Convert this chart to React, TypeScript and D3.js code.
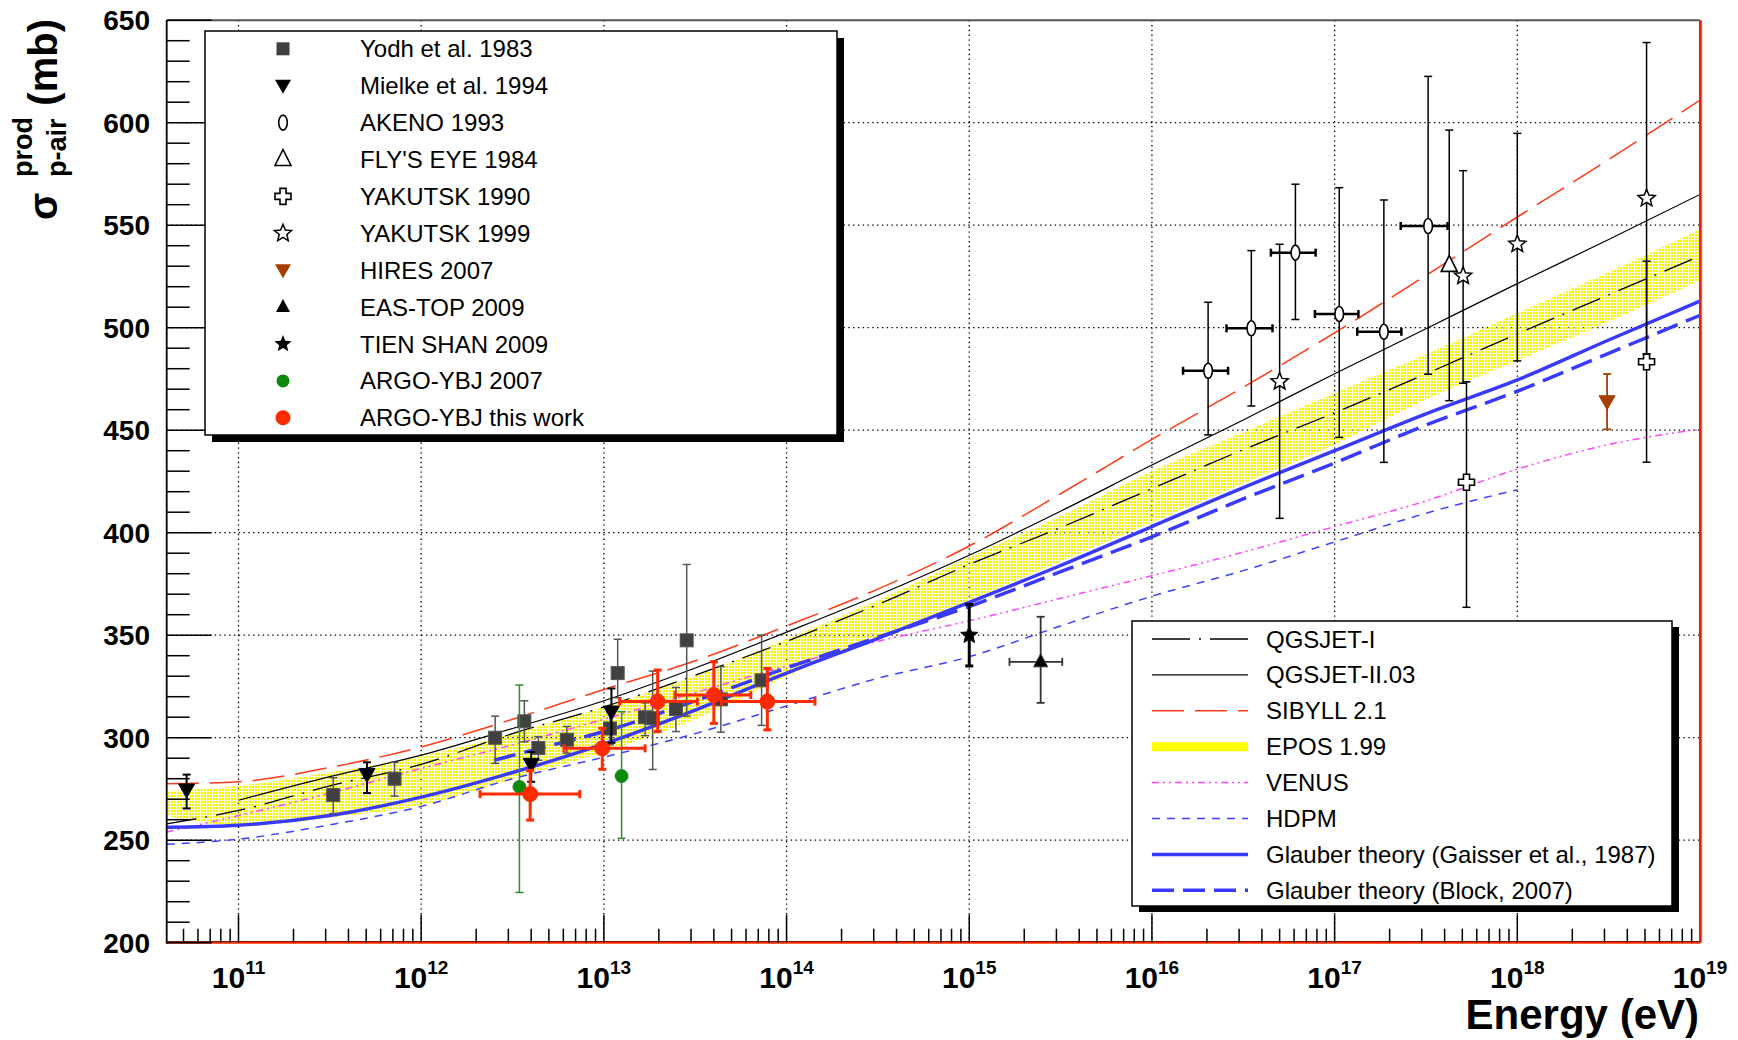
import React from "react";
import { scaleLog, scaleLinear, line, area, curveMonotoneX, range } from "d3";

// model curves: [log10(E / eV), sigma (mb)]
const qgsjetI = [
  [10.607, 258], [11, 264.5], [11.5, 276.5], [12, 287], [12.5, 302], [13, 315],
  [13.5, 330.5], [14, 347], [14.5, 365], [15, 384.5], [15.5, 402.5], [16, 421.5],
  [16.5, 440.5], [17, 458.5], [17.5, 477.5], [18, 497], [18.5, 516], [19, 535],
];
const qgsjetII = [
  [11, 269.5], [11.5, 281], [12, 291.5], [12.5, 304.5], [13, 318], [13.5, 334],
  [14, 351.5], [14.5, 369.5], [15, 389], [15.5, 410.5], [16, 433], [16.5, 455],
  [17, 477.5], [17.5, 499.5], [18, 521.5], [18.5, 543], [19, 565],
];
const sibyll = [
  [10.607, 277.5], [11, 278.5], [11.5, 285.5], [12, 295.5], [12.5, 309], [13, 323.5],
  [13.5, 337.5], [14, 354.5], [14.5, 372.5], [15, 393.5], [15.5, 419], [16, 445.5],
  [16.5, 471], [17, 497.5], [17.5, 525.5], [18, 554], [18.5, 582], [19, 611],
];
const venus = [
  [10.607, 254], [11, 262], [11.5, 273], [12, 285], [12.5, 296.5], [13, 309],
  [13.5, 322], [14, 335], [14.5, 347], [15, 357], [15.5, 368], [16, 379],
  [16.5, 390.5], [17, 403], [17.5, 415.5], [18, 431], [18.5, 443], [19, 450.5],
];
const hdpm = [
  [10.607, 248], [11, 250.5], [11.5, 257.5], [12, 266.5], [12.5, 280], [13, 290.5],
  [13.5, 302], [14, 315.5], [14.5, 329], [15, 339.5], [15.5, 354.5], [16, 369],
  [16.5, 381.5], [17, 395.5], [17.5, 409.5], [18, 421],
];
const gaisser = [
  [10.607, 256.3], [11, 257.3], [11.5, 262], [12, 271], [12.5, 283], [13, 297],
  [13.5, 313.5], [14, 331.5], [14.5, 348.5], [15, 366], [15.5, 384], [16, 403],
  [16.5, 422], [17, 440], [17.5, 458], [18, 474.5], [18.5, 494], [19, 513],
];
const block = [
  [12.4, 289], [12.7, 296], [13, 303], [13.5, 318], [14, 334], [14.5, 349], [15, 364],
  [15.5, 381], [16, 398], [16.5, 416.5], [17, 434], [17.5, 452.5], [18, 469],
  [18.5, 487.5], [19, 506],
];
// EPOS 1.99 band
const eposE = [10.607, 11, 11.5, 12, 12.5, 13, 13.5, 14, 14.5, 15, 15.5, 16, 16.5, 17, 17.5, 18, 18.5, 19];
const eposHigh = [274, 276.5, 283, 291, 302, 315, 330, 348, 367, 388, 408, 430, 449, 468, 487, 507, 527, 548];
const eposLow = [262, 257, 261, 267, 280, 293, 309, 330, 349, 367, 386, 405, 424, 443, 465, 484, 503, 523];

type Pt = { e: number; s: number; up: number; dn: number; elo?: number; ehi?: number };

const yodh: Pt[] = [
  { e: 3.3e11, s: 272, up: 8.5, dn: 9 },
  { e: 7.15e11, s: 280, up: 8, dn: 8.5 },
  { e: 2.54e12, s: 300, up: 10.5, dn: 12.5 },
  { e: 3.67e12, s: 308, up: 10, dn: 10 },
  { e: 4.38e12, s: 295, up: 5.5, dn: 6 },
  { e: 6.27e12, s: 299, up: 6.5, dn: 6.5 },
  { e: 1.08e13, s: 304.5, up: 8, dn: 8 },
  { e: 1.19e13, s: 331.5, up: 16.5, dn: 12 },
  { e: 1.68e13, s: 310, up: 7, dn: 9 },
  { e: 1.85e13, s: 309.5, up: 23, dn: 25 },
  { e: 2.48e13, s: 314, up: 10.5, dn: 11 },
  { e: 2.84e13, s: 347.5, up: 37, dn: 37 },
  { e: 4.37e13, s: 318.7, up: 16, dn: 16 },
  { e: 7.3e13, s: 328, up: 22, dn: 22 },
];
const mielke: Pt[] = [
  { e: 5.2e10, s: 274.5, up: 7.5, dn: 9 },
  { e: 5.05e11, s: 282, up: 6, dn: 9 },
  { e: 4.0e12, s: 287, up: 6, dn: 8.5 },
  { e: 1.1e13, s: 312.5, up: 11.5, dn: 15 },
];
const akeno: Pt[] = [
  { e: 2.03e16, s: 479, up: 33.4, dn: 31.3, elo: 1.48e16, ehi: 2.61e16 },
  { e: 3.5e16, s: 499.7, up: 37.9, dn: 37.9, elo: 2.56e16, ehi: 4.57e16 },
  { e: 6.1e16, s: 536.6, up: 33.4, dn: 32.6, elo: 4.48e16, ehi: 7.87e16 },
  { e: 1.06e17, s: 506.7, up: 61.6, dn: 60.2, elo: 7.8e16, ehi: 1.35e17 },
  { e: 1.86e17, s: 498, up: 64.3, dn: 63.7, elo: 1.33e17, ehi: 2.32e17 },
  { e: 3.25e17, s: 549.6, up: 73, dn: 72.3, elo: 2.3e17, ehi: 4.15e17 },
];
const flysEye: Pt[] = [{ e: 4.24e17, s: 530.4, up: 66, dn: 66 }];
const yakutsk90: Pt[] = [
  { e: 5.27e17, s: 424.6, up: 49, dn: 61 },
  { e: 5.1e18, s: 483.4, up: 49, dn: 49 },
];
const yakutsk99: Pt[] = [
  { e: 5e16, s: 473.7, up: 67, dn: 66.7 },
  { e: 5.05e17, s: 525.2, up: 51.4, dn: 52.3 },
  { e: 1e18, s: 540.8, up: 54, dn: 57 },
  { e: 5.1e18, s: 563.1, up: 76, dn: 76 },
];
const hires: Pt[] = [{ e: 3.1e18, s: 463.9, up: 13.5, dn: 13.5 }];
const easTop: Pt[] = [{ e: 2.46e15, s: 337, up: 22, dn: 20, elo: 1.66e15, ehi: 3.23e15 }];
const tienShan: Pt[] = [{ e: 1e15, s: 350, up: 15, dn: 15 }];
const argo2007: Pt[] = [
  { e: 3.45e12, s: 276, up: 49.7, dn: 51.5 },
  { e: 1.25e13, s: 281.3, up: 31.4, dn: 30.4 },
];
const argoThis: Pt[] = [
  { e: 3.95e12, s: 272.5, up: 11.5, dn: 12.7, elo: 2.1e12, ehi: 7.38e12 },
  { e: 9.8e12, s: 294.8, up: 9.8, dn: 10.2, elo: 6.05e12, ehi: 1.68e13 },
  { e: 1.97e13, s: 317.6, up: 15.4, dn: 14.6, elo: 1.22e13, ehi: 3.25e13 },
  { e: 4.0e13, s: 320.8, up: 16.2, dn: 13.8, elo: 2.45e13, ehi: 6.37e13 },
  { e: 7.85e13, s: 317.6, up: 16.2, dn: 13.8, elo: 4.4e13, ehi: 1.43e14 },
];

const xDecades = [11, 12, 13, 14, 15, 16, 17, 18, 19];
const yMajor = [200, 250, 300, 350, 400, 450, 500, 550, 600, 650];

const FONT = "'Liberation Sans', Arial, Helvetica, sans-serif";
const X0 = 166.7, X1 = 1700, Y0 = 942.7, Y1 = 20.2;
const x = scaleLog().domain([Math.pow(10, 10.607), 1e19]).range([X0, X1]);
const y = scaleLinear().domain([200, 650]).range([Y0, Y1]);

const curve = (pts: number[][]) =>
  line<number[]>()
    .x((d) => x(Math.pow(10, d[0])))
    .y((d) => y(d[1]))
    .curve(curveMonotoneX)(pts) as string;

const eposBand = area<number>()
  .x((d, i) => x(Math.pow(10, eposE[i])))
  .y0((d, i) => y(eposLow[i]))
  .y1((d, i) => y(eposHigh[i]))
  .curve(curveMonotoneX)(eposE) as string;

const starPts = (cx: number, cy: number, R: number, r: number) =>
  range(10)
    .map((i) => {
      const a = -Math.PI / 2 + (i * Math.PI) / 5;
      const rr = i % 2 ? r : R;
      return `${cx + rr * Math.cos(a)},${cy + rr * Math.sin(a)}`;
    })
    .join(" ");

function Marker({ kind, cx, cy }: { kind: string; cx: number; cy: number }) {
  switch (kind) {
    case "square":
      return <rect x={cx - 6.5} y={cy - 6.5} width={13} height={13} fill="#404040" />;
    case "tridown":
      return <polygon points={`${cx - 8},${cy - 6} ${cx + 8},${cy - 6} ${cx},${cy + 8}`} fill="#000" />;
    case "hires":
      return <polygon points={`${cx - 8},${cy - 6} ${cx + 8},${cy - 6} ${cx},${cy + 8}`} fill="#a63f00" />;
    case "diamond":
      return <ellipse cx={cx} cy={cy} rx={4.3} ry={7.5} fill="#fff" stroke="#000" strokeWidth={1.6} />;
    case "opentri":
      return <polygon points={`${cx},${cy - 10} ${cx - 8},${cy + 6} ${cx + 8},${cy + 6}`} fill="#fff" stroke="#000" strokeWidth={1.6} />;
    case "opencross": {
      const a = 3, b = 8;
      const p = [[-a, -b], [a, -b], [a, -a], [b, -a], [b, a], [a, a], [a, b], [-a, b], [-a, a], [-b, a], [-b, -a], [-a, -a]];
      return <polygon points={p.map((q) => `${cx + q[0]},${cy + q[1]}`).join(" ")} fill="#fff" stroke="#000" strokeWidth={1.6} />;
    }
    case "openstar":
      return <polygon points={starPts(cx, cy, 9, 4)} fill="#fff" stroke="#000" strokeWidth={1.5} />;
    case "tri":
      return <polygon points={`${cx},${cy - 8} ${cx - 7},${cy + 5} ${cx + 7},${cy + 5}`} fill="#000" />;
    case "star":
      return <polygon points={starPts(cx, cy, 9, 4)} fill="#000" />;
    case "green":
      return <circle cx={cx} cy={cy} r={6.5} fill="#0b8a0b" />;
    default:
      return <circle cx={cx} cy={cy} r={7.5} fill="#ff2a00" />;
  }
}

const series = [
  { name: "Yodh et al. 1983", kind: "square", pts: yodh, color: "#555", w: 1.5, hw: 1.5 },
  { name: "Mielke et al. 1994", kind: "tridown", pts: mielke, color: "#000", w: 2, hw: 2 },
  { name: "AKENO 1993", kind: "diamond", pts: akeno, color: "#000", w: 1.5, hw: 2.5 },
  { name: "FLY'S EYE 1984", kind: "opentri", pts: flysEye, color: "#000", w: 1.5, hw: 1.5 },
  { name: "YAKUTSK 1990", kind: "opencross", pts: yakutsk90, color: "#000", w: 1.5, hw: 1.5 },
  { name: "YAKUTSK 1999", kind: "openstar", pts: yakutsk99, color: "#000", w: 1.5, hw: 1.5 },
  { name: "HIRES 2007", kind: "hires", pts: hires, color: "#a63f00", w: 1.8, hw: 1.8 },
  { name: "EAS-TOP 2009", kind: "tri", pts: easTop, color: "#333", w: 1.8, hw: 1.8 },
  { name: "TIEN SHAN 2009", kind: "star", pts: tienShan, color: "#000", w: 3, hw: 3 },
  { name: "ARGO-YBJ 2007", kind: "green", pts: argo2007, color: "#2e8b2e", w: 1.5, hw: 1.5 },
  { name: "ARGO-YBJ this work", kind: "red", pts: argoThis, color: "#ff2a00", w: 3, hw: 3 },
];

const models = [
  { name: "QGSJET-I", d: curve(qgsjetI), color: "#000", w: 1.3, dash: "30 9 2 9" },
  { name: "QGSJET-II.03", d: curve(qgsjetII), color: "#000", w: 1.2, dash: "" },
  { name: "SIBYLL 2.1", d: curve(sibyll), color: "#ff3a1a", w: 1.5, dash: "32 11" },
  { name: "EPOS 1.99", d: "", color: "#ffff00", w: 9, dash: "" },
  { name: "VENUS", d: curve(venus), color: "#ff44ff", w: 1.5, dash: "7 4 2 4 2 4" },
  { name: "HDPM", d: curve(hdpm), color: "#4040ff", w: 1.5, dash: "8 7" },
  { name: "Glauber theory (Gaisser et al., 1987)", d: curve(gaisser), color: "#3a3aff", w: 3.5, dash: "" },
  { name: "Glauber theory (Block, 2007)", d: curve(block), color: "#3a3aff", w: 3.5, dash: "22 9" },
];

function Points({ s }: { s: (typeof series)[number] }) {
  const cap = 4;
  return (
    <g>
      {s.pts.map((p, i) => {
        const cx = x(p.e), cy = y(p.s), t = y(p.s + p.up), b = y(p.s - p.dn);
        return (
          <g key={i} stroke={s.color}>
            <line x1={cx} x2={cx} y1={t} y2={b} strokeWidth={s.w} />
            <line x1={cx - cap} x2={cx + cap} y1={t} y2={t} strokeWidth={s.w} />
            <line x1={cx - cap} x2={cx + cap} y1={b} y2={b} strokeWidth={s.w} />
            {p.elo && p.ehi && (
              <g strokeWidth={s.hw}>
                <line x1={x(p.elo)} x2={x(p.ehi)} y1={cy} y2={cy} />
                <line x1={x(p.elo)} x2={x(p.elo)} y1={cy - cap} y2={cy + cap} />
                <line x1={x(p.ehi)} x2={x(p.ehi)} y1={cy - cap} y2={cy + cap} />
              </g>
            )}
            <Marker kind={s.kind} cx={cx} cy={cy} />
          </g>
        );
      })}
    </g>
  );
}

export default function App() {
  const minorX: number[] = [];
  for (let d = 10; d < 19; d++)
    for (let k = 2; k <= 9; k++) {
      const e = k * Math.pow(10, d);
      if (e > x.domain()[0] && e < 1e19) minorX.push(e);
    }
  const minorY = range(200, 651, 10).filter((v) => v % 50 !== 0);

  return (
    <svg
      width={1738}
      height={1040}
      style={{ position: "absolute", left: 0, top: 0, background: "#fff" }}
      fontFamily={FONT}
    >
      <defs>
        <pattern id="epos" width={3} height={3} patternUnits="userSpaceOnUse">
          <rect width={2.1} height={2.1} fill="#f4f400" />
        </pattern>
        <clipPath id="plot">
          <rect x={X0} y={Y1} width={X1 - X0} height={Y0 - Y1} />
        </clipPath>
      </defs>

      {/* grid */}
      <g stroke="#000" strokeWidth={1.3} strokeDasharray="1.4 3.4">
        {xDecades.slice(0, -1).map((d) => (
          <line key={d} x1={x(Math.pow(10, d))} x2={x(Math.pow(10, d))} y1={Y1} y2={Y0} />
        ))}
        {yMajor.slice(1, -1).map((v) => (
          <line key={v} x1={X0} x2={X1} y1={y(v)} y2={y(v)} />
        ))}
      </g>

      {/* models */}
      <g clipPath="url(#plot)" fill="none">
        <path d={eposBand} fill="url(#epos)" stroke="none" />
        {models.filter((m) => m.d).map((m) => (
          <path key={m.name} d={m.d} stroke={m.color} strokeWidth={m.w} strokeDasharray={m.dash || undefined} />
        ))}
      </g>

      {/* data */}
      {series.map((s) => (
        <Points key={s.name} s={s} />
      ))}

      {/* frame */}
      <line x1={X0} x2={X1} y1={Y1} y2={Y1} stroke="#555" strokeWidth={2} />
      <line x1={X1 + 1.5} x2={X1 + 1.5} y1={Y1} y2={Y0} stroke="#888" strokeWidth={1.5} />
      <line x1={X1} x2={X1} y1={Y1} y2={Y0} stroke="#e8200a" strokeWidth={2} />
      <line x1={X0} x2={X0} y1={Y1} y2={Y0 + 1} stroke="#000" strokeWidth={1.8} />
      <line x1={X0} x2={X1} y1={Y0 - 1} y2={Y0 - 1} stroke="#000" strokeWidth={1.2} />
      <line x1={X0} x2={X1} y1={Y0} y2={Y0} stroke="#ff2a00" strokeWidth={2.2} />

      {/* ticks */}
      <g stroke="#000" strokeWidth={1.5}>
        {yMajor.map((v) => (
          <line key={v} x1={X0} x2={X0 + 45} y1={y(v)} y2={y(v)} />
        ))}
        {minorY.map((v) => (
          <line key={v} x1={X0} x2={X0 + 23} y1={y(v)} y2={y(v)} />
        ))}
        {xDecades.slice(0, -1).map((d) => (
          <line key={d} x1={x(Math.pow(10, d))} x2={x(Math.pow(10, d))} y1={Y0} y2={Y0 - 28} />
        ))}
        {minorX.map((e) => (
          <line key={e} x1={x(e)} x2={x(e)} y1={Y0} y2={Y0 - 14} />
        ))}
      </g>

      {/* tick labels */}
      <g fontWeight="bold" fill="#000">
        {yMajor.map((v) => (
          <text key={v} x={150} y={y(v) + 10} fontSize={28} textAnchor="end">
            {v}
          </text>
        ))}
        {xDecades.map((d) => (
          <text key={d} x={x(Math.pow(10, d))} y={988} fontSize={30} textAnchor="middle">
            10
            <tspan dy={-14} fontSize={19}>
              {d}
            </tspan>
          </text>
        ))}
        <text x={1699} y={1029} fontSize={42} textAnchor="end">
          Energy (eV)
        </text>
        <g transform="rotate(-90)">
          <text x={-220} y={57} fontSize={40}>σ</text>
          <text x={-177} y={32} fontSize={27}>prod</text>
          <text x={-177} y={66} fontSize={27}>p-air</text>
          <text x={-19} y={57} fontSize={40} textAnchor="end">(mb)</text>
        </g>
      </g>

      {/* data legend */}
      <g>
        <rect x={212} y={38} width={632} height={404} fill="#000" />
        <rect x={205} y={31} width={632} height={404} fill="#fff" stroke="#000" strokeWidth={1.5} />
        {series.map((s, i) => {
          const ry = 48.8 + i * 36.9;
          return (
            <g key={s.name}>
              <Marker kind={s.kind} cx={283} cy={ry} />
              <text x={360} y={ry + 8.5} fontSize={24} fill="#000">
                {s.name}
              </text>
            </g>
          );
        })}
      </g>

      {/* model legend */}
      <g>
        <rect x={1139} y={627} width={540} height={285} fill="#000" />
        <rect x={1132} y={621} width={540} height={285} fill="#fff" stroke="#000" strokeWidth={1.5} />
        {models.map((m, i) => {
          const ry = 639 + i * 35.9;
          return (
            <g key={m.name}>
              <line
                x1={1152}
                x2={1248}
                y1={ry}
                y2={ry}
                stroke={m.color}
                strokeWidth={m.w}
                strokeDasharray={m.name === "QGSJET-I" ? "38 9 2 9 38" : m.dash || undefined}
              />
              <text x={1266} y={ry + 8.5} fontSize={24} fill="#000">
                {m.name}
              </text>
            </g>
          );
        })}
      </g>
    </svg>
  );
}
